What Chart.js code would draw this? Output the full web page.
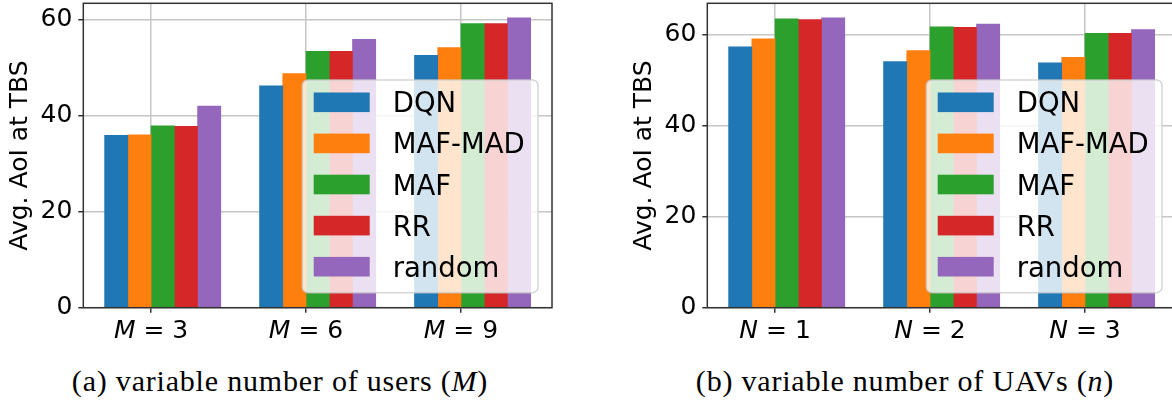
<!DOCTYPE html>
<html>
<head>
<meta charset="utf-8">
<script src="https://cdn.jsdelivr.net/npm/chart.js@4"></script>
<style>
  html, body { margin: 0; padding: 0; background: #fff; }
  #page { position: relative; width: 1172px; height: 404px; overflow: hidden; background: #fff; }
  #page canvas { position: absolute; top: 0; }
  #chartUsers { left: 0; }
  #chartUavs { left: 624px; }
  .caption {
    position: absolute; top: 366px;
    font-family: "Liberation Serif", serif; font-size: 30px; line-height: 30px;
    letter-spacing: 0.8px; white-space: nowrap; color: #000;
    transform: translateX(-50%);
  }
</style>
</head>
<body>
<div id="page">
  <canvas id="chartUsers" width="586" height="345"></canvas>
  <canvas id="chartUavs" width="586" height="345"></canvas>
  <div class="caption" style="left:280px">(a) variable number of users (<i>M</i>)</div>
  <div class="caption" style="left:905px">(b) variable number of UAVs (<i>n</i>)</div>
</div>
<script>
// Schemes compared in both panels
const seriesNames = ['DQN', 'MAF-MAD', 'MAF', 'RR', 'random'];
const seriesColors = ['#1f77b4', '#ff7f0e', '#2ca02c', '#d62728', '#9467bd'];

// Panel (a): number of users M
const usersTickVar = 'M';
const usersTickValues = [3, 6, 9];
const usersDQN    = [35.9, 46.2, 52.6];
const usersMAFMAD = [36.0, 48.8, 54.2];
const usersMAF    = [37.9, 53.4, 59.2];
const usersRR     = [37.8, 53.4, 59.2];
const usersRandom = [42.0, 55.9, 60.4];

// Panel (b): number of UAVs N
const uavsTickVar = 'N';
const uavsTickValues = [1, 2, 3];
const uavsDQN    = [57.3, 54.1, 53.8];
const uavsMAFMAD = [59.1, 56.5, 55.0];
const uavsMAF    = [63.5, 61.7, 60.3];
const uavsRR     = [63.3, 61.6, 60.3];
const uavsRandom = [63.7, 62.3, 61.1];

const yTicks = [0, 20, 40, 60];
const yTitle = 'Avg. AoI at TBS';

const GRID = '#c6c6c6';
const AXIS = '#333333';
const FONT = '"DejaVu Sans", sans-serif';

// axes frame on all four sides, drawn over the bars
const framePlugin = {
  id: 'frame',
  afterDatasetsDraw(chart) {
    const { ctx, chartArea: a } = chart;
    ctx.save();
    ctx.strokeStyle = AXIS;
    ctx.lineWidth = 1.5;
    ctx.strokeRect(a.left, a.top, a.right - a.left, a.bottom - a.top);
    ctx.restore();
  }
};

// legend box in the lower right corner of the plot area
const cornerLegend = {
  id: 'cornerLegend',
  afterDraw(chart) {
    const { ctx, chartArea: a } = chart;
    const fs = 27.5;
    ctx.save();
    ctx.font = `${fs}px ${FONT}`;
    const items = chart.data.datasets.map(d => ({ label: d.label, color: d.backgroundColor }));
    const tw = Math.max(...items.map(it => ctx.measureText(it.label).width));
    const padL = 11.3, hw = 56, hh = 19.6, gap = 23, padR = 13.3;
    const rowH = 41.1, firstRow = 22.3, h = 212.7;
    const w = padL + hw + gap + tw + padR;
    const right = a.right - 14, bottom = a.bottom - 15;
    const left = right - w, top = bottom - h;
    ctx.beginPath();
    ctx.roundRect(left, top, w, h, 5.5);
    ctx.fillStyle = 'rgba(255,255,255,0.8)';
    ctx.fill();
    ctx.strokeStyle = 'rgba(204,204,204,0.8)';
    ctx.lineWidth = 1.5;
    ctx.stroke();
    ctx.textBaseline = 'alphabetic';
    ctx.textAlign = 'left';
    items.forEach((it, i) => {
      const cy = top + firstRow + i * rowH;
      ctx.fillStyle = it.color;
      ctx.fillRect(left + padL, cy - hh / 2, hw, hh);
      ctx.fillStyle = '#000';
      ctx.fillText(it.label, left + padL + hw + gap, cy + 0.364 * fs);
    });
    ctx.restore();
  }
};

// category labels of the form "M = 3" with an italic variable name
function mathTickLabels(varName, values) {
  return {
    id: 'mathTicks',
    afterDraw(chart) {
      const sc = chart.scales.x;
      const { ctx, chartArea: a } = chart;
      const italic = `italic 25px ${FONT}`;
      const regular = `25px ${FONT}`;
      const baseY = a.bottom + 30.6;
      ctx.save();
      ctx.fillStyle = '#000';
      ctx.textBaseline = 'alphabetic';
      ctx.textAlign = 'left';
      values.forEach((val, i) => {
        const cx = sc.getPixelForValue(i);
        const rest = ' = ' + val;
        ctx.font = italic;
        const w1 = ctx.measureText(varName).width;
        ctx.font = regular;
        const w2 = ctx.measureText(rest).width;
        const x0 = cx - (w1 + w2) / 2;
        ctx.font = italic;
        ctx.fillText(varName, x0, baseY);
        ctx.font = regular;
        ctx.fillText(rest, x0 + w1, baseY);
      });
      ctx.restore();
    }
  };
}

function makeChart(canvasId, tickVar, tickValues, seriesValues) {
  const nCat = tickValues.length;
  const bw = 0.15; // bar width in category units; series placed side by side
  const datasets = seriesNames.map((name, s) => ({
    label: name,
    data: seriesValues[s].map((v, c) => ({ x: c + (s - 1.5) * bw, y: v })),
    backgroundColor: seriesColors[s],
    borderWidth: 0,
    grouped: false,
    barPercentage: 1,
    categoryPercentage: 1
  }));
  const lo = -2 * bw, hi = (nCat - 1) + 3 * bw, margin = 0.05 * (hi - lo);
  const yMax = Math.max(...seriesValues.flat()) * 1.05;

  return new Chart(document.getElementById(canvasId), {
    type: 'bar',
    data: { datasets },
    options: {
      responsive: false,
      animation: false,
      devicePixelRatio: 1,
      layout: { padding: { left: 0, right: 34, top: 3.3, bottom: 0 } },
      plugins: { legend: { display: false }, tooltip: { enabled: false } },
      scales: {
        x: {
          type: 'linear',
          min: lo - margin,
          max: hi + margin,
          offset: false,
          grid: { offset: false, color: GRID, lineWidth: 1.5, tickColor: AXIS, tickLength: 5, tickWidth: 1.5 },
          border: { display: false },
          ticks: { display: false },
          afterBuildTicks: sc => { sc.ticks = tickValues.map((_, i) => ({ value: i })); },
          afterFit: sc => {
            sc.height = 37.3;
            sc.paddingLeft = 0; sc.paddingRight = 0;
          }
        },
        y: {
          type: 'linear',
          min: 0,
          max: yMax,
          grid: { color: GRID, lineWidth: 1.5, tickColor: AXIS, tickLength: 5, tickWidth: 1.5 },
          border: { display: false },
          ticks: { font: { family: FONT, size: 25 }, color: '#000', padding: 6 },
          afterBuildTicks: sc => { sc.ticks = yTicks.map(v => ({ value: v })); },
          title: {
            display: true, text: yTitle, color: '#000',
            font: { family: FONT, size: 25, lineHeight: 1.2 },
            padding: { top: 5, bottom: 0 }
          },
          afterFit: sc => {
            sc.width = 83.3;
            sc.paddingTop = 0; sc.paddingBottom = 0;
          }
        }
      }
    },
    plugins: [framePlugin, cornerLegend, mathTickLabels(tickVar, tickValues)]
  });
}

makeChart('chartUsers', usersTickVar, usersTickValues,
  [usersDQN, usersMAFMAD, usersMAF, usersRR, usersRandom]);
makeChart('chartUavs', uavsTickVar, uavsTickValues,
  [uavsDQN, uavsMAFMAD, uavsMAF, uavsRR, uavsRandom]);
</script>
</body>
</html>
